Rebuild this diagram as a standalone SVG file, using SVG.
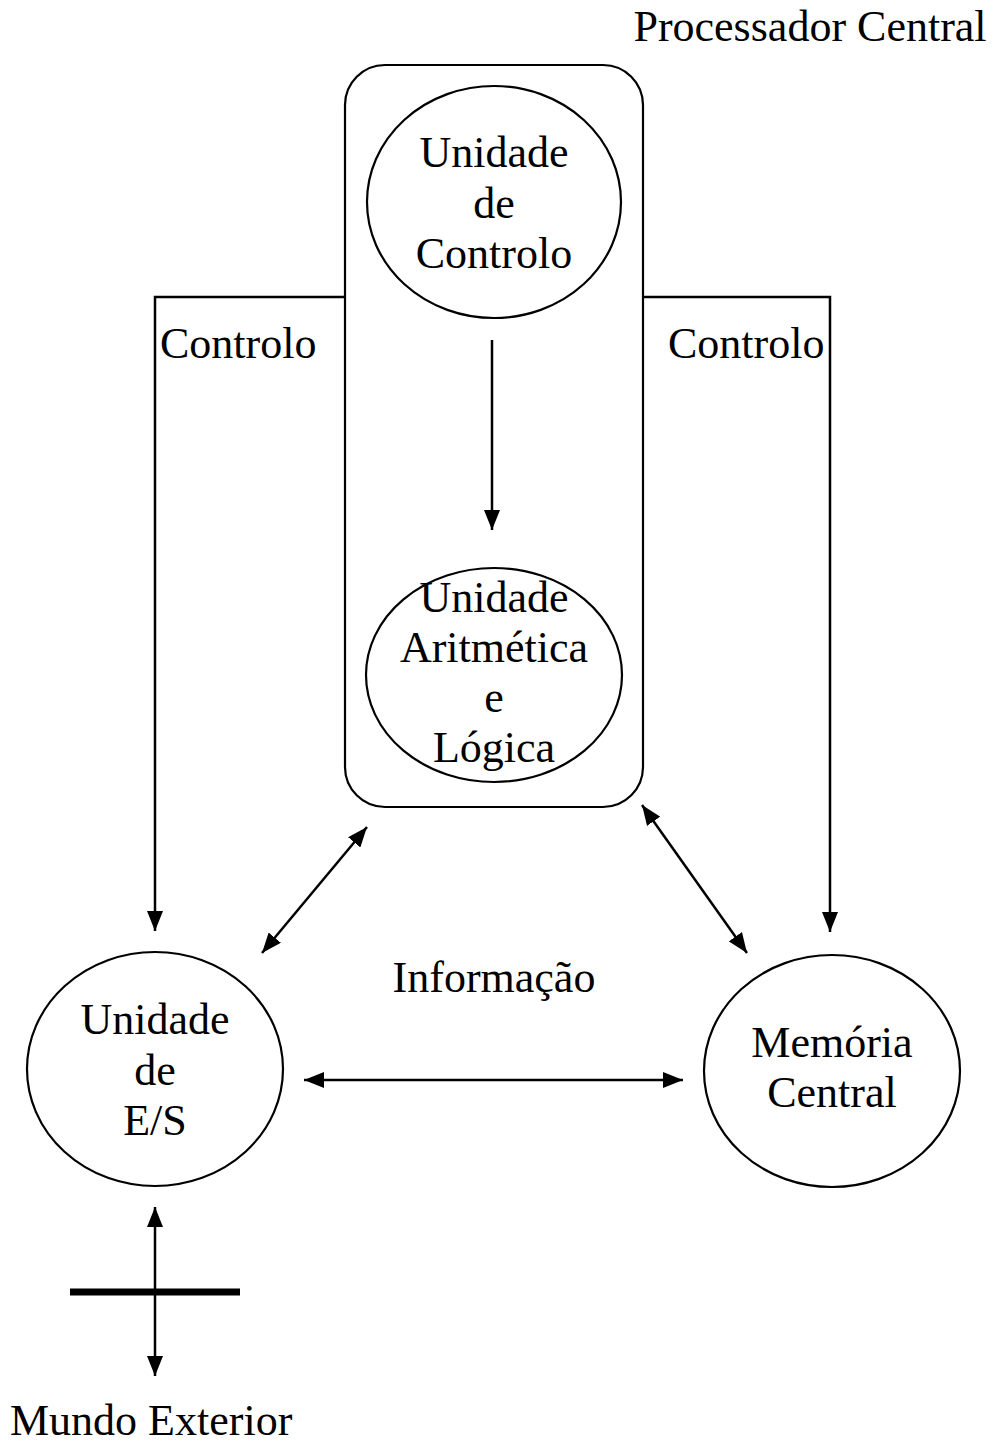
<svg xmlns="http://www.w3.org/2000/svg" width="994" height="1443" viewBox="0 0 994 1443">
<style>
text{font-family:"Liberation Serif","Times New Roman",serif;font-size:44px;fill:#000}
.c{text-anchor:middle}
.shape{fill:none;stroke:#000;stroke-width:2.2}
.conn{fill:none;stroke:#000;stroke-width:2.5}
</style>
<defs>
<marker id="ah" viewBox="0 0 20 16" refX="20" refY="8" markerWidth="20" markerHeight="16" markerUnits="userSpaceOnUse" orient="auto-start-reverse">
<path d="M0,0 L20,8 L0,16 Z" fill="#000"/>
</marker>
</defs>
<rect width="994" height="1443" fill="#fff"/>
<g id="processador">
<rect class="shape" x="345" y="65" width="298" height="742" rx="40" ry="40"/>
<text x="810" y="41" class="c">Processador Central</text>
</g>
<g id="uc">
<ellipse class="shape" cx="494" cy="202" rx="127" ry="116"/>
<text class="c" x="494" y="167">Unidade</text>
<text class="c" x="494" y="218">de</text>
<text class="c" x="494" y="268">Controlo</text>
</g>
<g id="ual">
<ellipse class="shape" cx="494" cy="675" rx="128" ry="107"/>
<text class="c" x="494" y="612">Unidade</text>
<text class="c" x="494" y="662">Aritmética</text>
<text class="c" x="494" y="712">e</text>
<text class="c" x="494" y="762">Lógica</text>
</g>
<g id="es">
<ellipse class="shape" cx="155" cy="1069" rx="128" ry="117"/>
<text class="c" x="155" y="1034">Unidade</text>
<text class="c" x="155" y="1085">de</text>
<text class="c" x="155" y="1135">E/S</text>
</g>
<g id="memoria">
<ellipse class="shape" cx="832" cy="1071" rx="128" ry="116"/>
<text class="c" x="832" y="1057">Memória</text>
<text class="c" x="832" y="1107">Central</text>
</g>
<g id="mundo">
<line x1="70" y1="1292" x2="240" y2="1292" stroke="#000" stroke-width="7"/>
<text x="10" y="1435">Mundo Exterior</text>
</g>
<g id="connectors">
<line class="conn" x1="492" y1="340" x2="492" y2="530" marker-end="url(#ah)"/>
<polyline class="conn" points="345,297 155,297 155,931" marker-end="url(#ah)"/>
<polyline class="conn" points="643,297 830,297 830,932" marker-end="url(#ah)"/>
<line class="conn" x1="262" y1="953" x2="367" y2="827" marker-start="url(#ah)" marker-end="url(#ah)"/>
<line class="conn" x1="642" y1="805" x2="747" y2="953" marker-start="url(#ah)" marker-end="url(#ah)"/>
<line class="conn" x1="304" y1="1080" x2="683" y2="1080" marker-start="url(#ah)" marker-end="url(#ah)"/>
<line class="conn" x1="155" y1="1207" x2="155" y2="1376" marker-start="url(#ah)" marker-end="url(#ah)"/>
<text x="160" y="358">Controlo</text>
<text x="668" y="358">Controlo</text>
<text class="c" x="494" y="992">Informação</text>
</g>
</svg>
